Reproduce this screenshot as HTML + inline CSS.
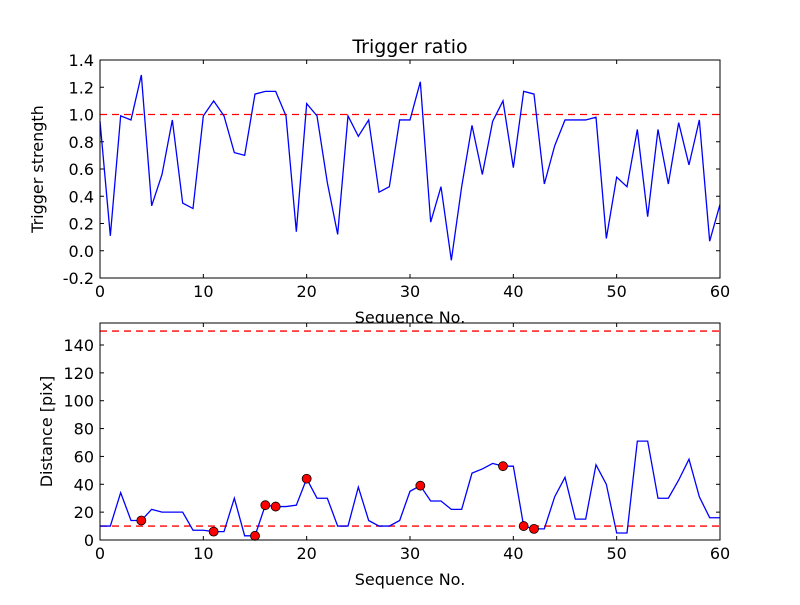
<!DOCTYPE html>
<html><head><meta charset="utf-8"><style>
html,body{margin:0;padding:0;background:#fff;}
svg text{font-family:"DejaVu Sans","Liberation Sans",sans-serif;}
</style></head><body>
<svg id="chart" width="800" height="600" xmlns="http://www.w3.org/2000/svg"></svg>
<script>
const ratioValues=[0.95,0.11,0.99,0.96,1.29,0.33,0.56,0.96,0.35,0.31,0.99,1.10,0.99,0.72,0.70,1.15,1.17,1.17,0.99,0.14,1.08,0.99,0.50,0.12,0.99,0.84,0.96,0.43,0.47,0.96,0.96,1.24,0.21,0.47,-0.07,0.47,0.92,0.56,0.95,1.10,0.61,1.17,1.15,0.49,0.77,0.96,0.96,0.96,0.98,0.09,0.54,0.47,0.89,0.25,0.89,0.49,0.94,0.63,0.96,0.07,0.34];
const distValues=[10,10,34,14,14,22,20,20,20,7,7,6,6,30,3,3,25,24,24,25,44,30,30,10,10,38,14,10,10,14,35,39,28,28,22,22,48,51,55,53,53,10,8,8,31,45,15,15,54,40,5,5,71,71,30,30,43,58,31,16,16];
const markerIdx=[4,11,15,16,17,20,31,39,41,42];
const xTicks=[0,10,20,30,40,50,60];
const topYTicks=[-0.2,0.0,0.2,0.4,0.6,0.8,1.0,1.2,1.4];
const botYTicks=[0,20,40,60,80,100,120,140];
const ratioThreshold=1.0;
const distThresholds=[10,150];

const svg=document.getElementById('chart');
const NS='http://www.w3.org/2000/svg';
function mk(tag,attrs,parent){const e=document.createElementNS(NS,tag);for(const k in attrs)e.setAttribute(k,attrs[k]);(parent||svg).appendChild(e);return e;}
const L=100,R=720;
const xs=v=>L+(v-0)/60*(R-L);
const T1=60,B1=278,yTop=v=>B1-(v+0.2)/1.6*(B1-T1);
const T2=323,B2=540,yBot=v=>B2-v/155.8*(B2-T2);

function axes(name,T,B,yTicks,yf,fmt,ylabel,ylx){
  const g=mk('g',{});
  
  
  xTicks.forEach(t=>{
    const x=xs(t);
    mk('line',{x1:x,x2:x,y1:B,y2:B-4,stroke:'#000'},g);
    mk('line',{x1:x,x2:x,y1:T,y2:T+4,stroke:'#000'},g);
    const tx=mk('text',{x:x,y:B+19,'text-anchor':'middle','font-size':'16'},g);
    
    
    tx.textContent=t;
  });
  yTicks.forEach(t=>{
    const y=yf(t);
    mk('line',{x1:L,x2:L+4,y1:y,y2:y,stroke:'#000'},g);
    mk('line',{x1:R,x2:R-4,y1:y,y2:y,stroke:'#000'},g);
    const tx=mk('text',{x:L-6,y:y+6,'text-anchor':'end','font-size':'16'},g);
    
    
    tx.textContent=fmt(t);
  });
  const xl=mk('text',{x:410,y:B+45,'text-anchor':'middle','font-size':'16'},g);
  
  
  xl.textContent='Sequence No.';
  const yl=mk('text',{x:ylx,y:(T+B)/2,'text-anchor':'middle','font-size':'16',transform:`rotate(-90 ${ylx} ${(T+B)/2})`},g);
  
  
  yl.textContent=ylabel;
  return g;
}

// Top plot
const g1=axes('top-axes',T1,B1,topYTicks,yTop,t=>t.toFixed(1),'Trigger strength',43);
const th1=mk('line',{x1:L,x2:R,y1:yTop(ratioThreshold),y2:yTop(ratioThreshold),stroke:'#f00','stroke-dasharray':'7,5','stroke-width':'1.3'});


const p1=mk('polyline',{points:ratioValues.map((v,i)=>xs(i)+','+yTop(v)).join(' '),fill:'none',stroke:'#00f','stroke-width':'1.3'});


const f1=mk('rect',{x:L,y:T1,width:R-L,height:B1-T1,fill:'none',stroke:'#000','stroke-width':'1'});


const title=mk('text',{x:410,y:53,'text-anchor':'middle','font-size':'19'});


title.textContent='Trigger ratio';

// Bottom plot
const bgc=mk('rect',{x:L,y:T2,width:R-L,height:B2-T2,fill:'#fff'});


const g2=axes('bottom-axes',T2,B2,botYTicks,yBot,t=>String(t),'Distance [pix]',52);
distThresholds.forEach(v=>{
  const l=mk('line',{x1:L,x2:R,y1:yBot(v),y2:yBot(v),stroke:'#f00','stroke-dasharray':'7,5','stroke-width':'1.3'});
  
  
});
const p2=mk('polyline',{points:distValues.map((v,i)=>xs(i)+','+yBot(v)).join(' '),fill:'none',stroke:'#00f','stroke-width':'1.3'});


markerIdx.forEach(i=>{
  const c=mk('circle',{cx:xs(i),cy:yBot(distValues[i]),r:4.5,fill:'#f00',stroke:'#000','stroke-width':'0.8'});
  
  
});
const f2=mk('rect',{x:L,y:T2,width:R-L,height:B2-T2,fill:'none',stroke:'#000','stroke-width':'1'});


</script>
</body></html>
